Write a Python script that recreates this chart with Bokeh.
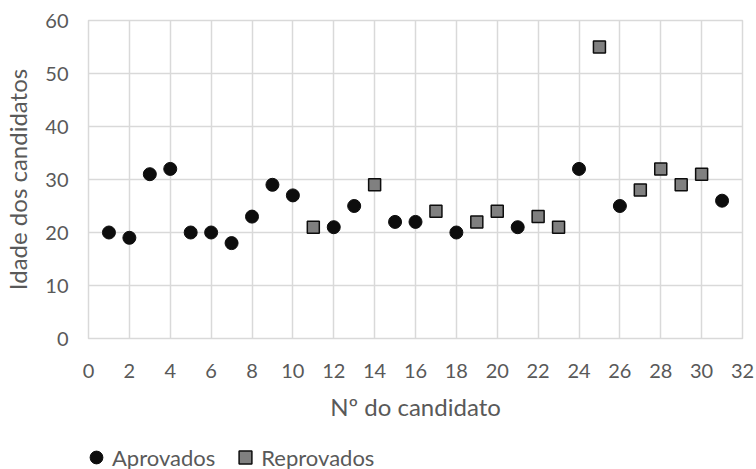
from bokeh.plotting import figure
from bokeh.layouts import column, row
from bokeh.models import ColumnDataSource, Legend, LegendItem, FixedTicker, Range1d, Spacer
from bokeh.embed import file_html
from bokeh.resources import INLINE

# Data
aprov_x = [1, 2, 3, 4, 5, 6, 7, 8, 9, 10, 12, 13, 15, 16, 18, 21, 24, 26, 31]
aprov_y = [20, 19, 31, 32, 20, 20, 18, 23, 29, 27, 21, 25, 22, 22, 20, 21, 32, 25, 26]
reprov_x = [11, 14, 17, 19, 20, 22, 23, 25, 27, 28, 29, 30]
reprov_y = [21, 29, 24, 22, 24, 23, 21, 55, 28, 32, 29, 31]
x_ticks = list(range(0, 33, 2))
y_ticks = list(range(0, 61, 10))
series_names = ["Aprovados", "Reprovados"]

FONT = "Lato"
TXT = "#595959"
GRID = "#d9d9d9"
DOT = "#0d0d0d"
SQ = "#808080"

p = figure(width=756, height=428, output_backend="svg", toolbar_location=None,
           x_range=Range1d(0, 32), y_range=Range1d(0, 60),
           min_border_left=87, min_border_right=14, min_border_top=20, min_border_bottom=90)

p.outline_line_color = GRID
p.outline_line_width = 1.5
p.background_fill_color = "white"
p.border_fill_color = "white"

for ax in (p.xaxis[0], p.yaxis[0]):
    ax.axis_line_color = None
    ax.major_tick_line_color = None
    ax.minor_tick_line_color = None
    ax.major_label_text_color = TXT
    ax.major_label_text_font = FONT
    ax.major_label_text_font_size = "20px"
    ax.axis_label_text_color = TXT
    ax.axis_label_text_font = FONT
    ax.axis_label_text_font_size = "24px"
    ax.axis_label_text_font_style = "normal"

p.xaxis[0].ticker = FixedTicker(ticks=x_ticks)
p.yaxis[0].ticker = FixedTicker(ticks=y_ticks)
p.xaxis[0].axis_label = "Nº do candidato"
p.yaxis[0].axis_label = "Idade dos candidatos"
p.xaxis[0].major_label_standoff = 19
p.xaxis[0].axis_label_standoff = 11
p.yaxis[0].major_label_standoff = 14
p.yaxis[0].axis_label_standoff = 10

p.xgrid.ticker = FixedTicker(ticks=x_ticks)
p.ygrid.ticker = FixedTicker(ticks=y_ticks)
p.xgrid.grid_line_color = GRID
p.ygrid.grid_line_color = GRID
p.xgrid.grid_line_width = 1.5
p.ygrid.grid_line_width = 1.5

src_a = ColumnDataSource(dict(x=aprov_x, y=aprov_y))
src_r = ColumnDataSource(dict(x=reprov_x, y=reprov_y))

p.scatter("x", "y", source=src_a, marker="circle", size=13,
          fill_color=DOT, line_color=DOT, line_width=1)
p.scatter("x", "y", source=src_r, marker="square", size=12,
          fill_color=SQ, line_color=DOT, line_width=1.5)

# Legend strip below the chart (series drawn off-range, only the legend shows)
lg = figure(width=676, height=28, output_backend="svg", toolbar_location=None,
            x_range=Range1d(-2, -1), y_range=Range1d(-2, -1),
            x_axis_type=None, y_axis_type=None,
            min_border_left=0, min_border_right=0, min_border_top=0, min_border_bottom=0)
lg.outline_line_color = None
lg.grid.visible = False
lg.border_fill_color = "white"
la = lg.scatter("x", "y", source=src_a, marker="circle", size=13,
                fill_color=DOT, line_color=DOT, line_width=1)
lr = lg.scatter("x", "y", source=src_r, marker="square", size=12,
                fill_color=SQ, line_color=DOT, line_width=1.5)
legend = Legend(items=[LegendItem(label=series_names[0], renderers=[la]),
                       LegendItem(label=series_names[1], renderers=[lr])],
                orientation="horizontal", location="top_left",
                label_text_font=FONT, label_text_font_size="22px",
                label_text_color=TXT, border_line_color=None,
                background_fill_alpha=0, glyph_width=32, glyph_height=32,
                label_standoff=-6, spacing=14, padding=0, margin=0)
lg.add_layout(legend, "center")

layout = column(p, Spacer(height=13), row(Spacer(width=80), lg, spacing=0), spacing=0)
open("out.html", "w").write(file_html(layout, INLINE))
